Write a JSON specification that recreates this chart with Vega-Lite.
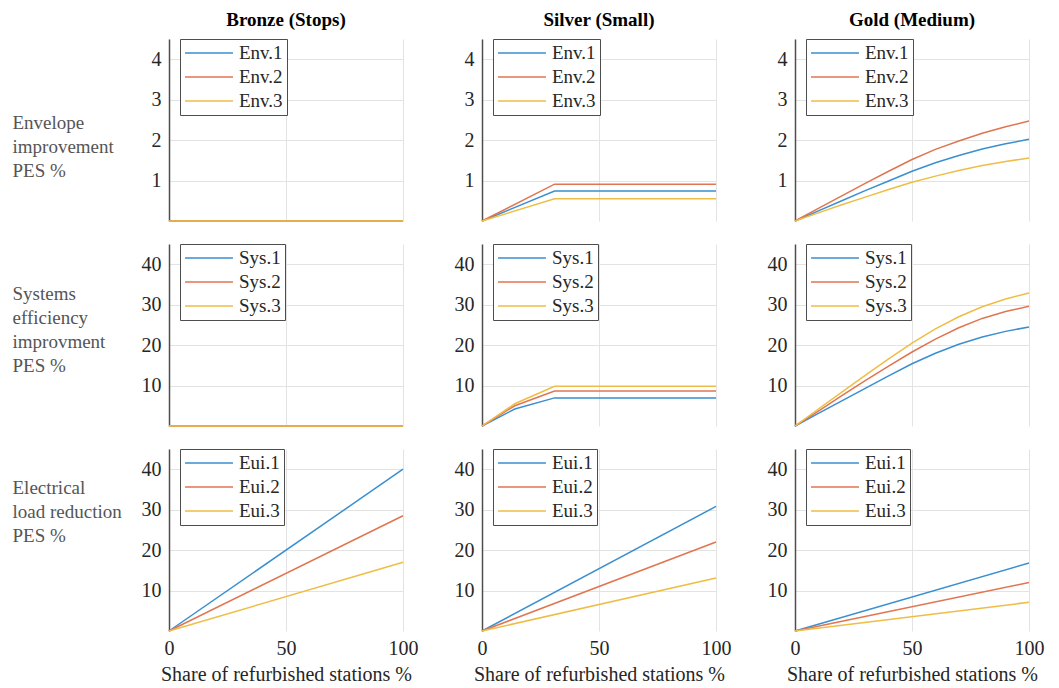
{
  "$schema": "https://vega.github.io/schema/vega-lite/v6.json",
  "padding": {"left": 12, "top": 10, "right": 5, "bottom": 2},
  "background": "white",
  "data": {"values": [
    {"tier": "Bronze", "metric": "Env", "s": "Env.1", "x": 0, "y": 0},
    {"tier": "Bronze", "metric": "Env", "s": "Env.1", "x": 100, "y": 0},
    {"tier": "Bronze", "metric": "Env", "s": "Env.2", "x": 0, "y": 0},
    {"tier": "Bronze", "metric": "Env", "s": "Env.2", "x": 100, "y": 0},
    {"tier": "Bronze", "metric": "Env", "s": "Env.3", "x": 0, "y": 0},
    {"tier": "Bronze", "metric": "Env", "s": "Env.3", "x": 100, "y": 0},
    {"tier": "Bronze", "metric": "Sys", "s": "Sys.1", "x": 0, "y": 0},
    {"tier": "Bronze", "metric": "Sys", "s": "Sys.1", "x": 100, "y": 0},
    {"tier": "Bronze", "metric": "Sys", "s": "Sys.2", "x": 0, "y": 0},
    {"tier": "Bronze", "metric": "Sys", "s": "Sys.2", "x": 100, "y": 0},
    {"tier": "Bronze", "metric": "Sys", "s": "Sys.3", "x": 0, "y": 0},
    {"tier": "Bronze", "metric": "Sys", "s": "Sys.3", "x": 100, "y": 0},
    {"tier": "Bronze", "metric": "Eui", "s": "Eui.1", "x": 0, "y": 0},
    {"tier": "Bronze", "metric": "Eui", "s": "Eui.1", "x": 100, "y": 40},
    {"tier": "Bronze", "metric": "Eui", "s": "Eui.2", "x": 0, "y": 0},
    {"tier": "Bronze", "metric": "Eui", "s": "Eui.2", "x": 100, "y": 28.5},
    {"tier": "Bronze", "metric": "Eui", "s": "Eui.3", "x": 0, "y": 0},
    {"tier": "Bronze", "metric": "Eui", "s": "Eui.3", "x": 100, "y": 17},

    {"tier": "Silver", "metric": "Env", "s": "Env.1", "x": 0, "y": 0},
    {"tier": "Silver", "metric": "Env", "s": "Env.1", "x": 31, "y": 0.74},
    {"tier": "Silver", "metric": "Env", "s": "Env.1", "x": 100, "y": 0.74},
    {"tier": "Silver", "metric": "Env", "s": "Env.2", "x": 0, "y": 0},
    {"tier": "Silver", "metric": "Env", "s": "Env.2", "x": 31, "y": 0.91},
    {"tier": "Silver", "metric": "Env", "s": "Env.2", "x": 100, "y": 0.91},
    {"tier": "Silver", "metric": "Env", "s": "Env.3", "x": 0, "y": 0},
    {"tier": "Silver", "metric": "Env", "s": "Env.3", "x": 31, "y": 0.55},
    {"tier": "Silver", "metric": "Env", "s": "Env.3", "x": 100, "y": 0.55},
    {"tier": "Silver", "metric": "Sys", "s": "Sys.1", "x": 0, "y": 0},
    {"tier": "Silver", "metric": "Sys", "s": "Sys.1", "x": 14, "y": 4.2},
    {"tier": "Silver", "metric": "Sys", "s": "Sys.1", "x": 31, "y": 6.95},
    {"tier": "Silver", "metric": "Sys", "s": "Sys.1", "x": 100, "y": 6.95},
    {"tier": "Silver", "metric": "Sys", "s": "Sys.2", "x": 0, "y": 0},
    {"tier": "Silver", "metric": "Sys", "s": "Sys.2", "x": 14, "y": 5.0},
    {"tier": "Silver", "metric": "Sys", "s": "Sys.2", "x": 31, "y": 8.65},
    {"tier": "Silver", "metric": "Sys", "s": "Sys.2", "x": 100, "y": 8.65},
    {"tier": "Silver", "metric": "Sys", "s": "Sys.3", "x": 0, "y": 0},
    {"tier": "Silver", "metric": "Sys", "s": "Sys.3", "x": 14, "y": 5.5},
    {"tier": "Silver", "metric": "Sys", "s": "Sys.3", "x": 31, "y": 9.8},
    {"tier": "Silver", "metric": "Sys", "s": "Sys.3", "x": 100, "y": 9.8},
    {"tier": "Silver", "metric": "Eui", "s": "Eui.1", "x": 0, "y": 0},
    {"tier": "Silver", "metric": "Eui", "s": "Eui.1", "x": 100, "y": 30.8},
    {"tier": "Silver", "metric": "Eui", "s": "Eui.2", "x": 0, "y": 0},
    {"tier": "Silver", "metric": "Eui", "s": "Eui.2", "x": 100, "y": 22.0},
    {"tier": "Silver", "metric": "Eui", "s": "Eui.3", "x": 0, "y": 0},
    {"tier": "Silver", "metric": "Eui", "s": "Eui.3", "x": 100, "y": 13.1},

    {"tier": "Gold", "metric": "Env", "s": "Env.1", "x": 0, "y": 0},
    {"tier": "Gold", "metric": "Env", "s": "Env.1", "x": 10, "y": 0.25},
    {"tier": "Gold", "metric": "Env", "s": "Env.1", "x": 20, "y": 0.50},
    {"tier": "Gold", "metric": "Env", "s": "Env.1", "x": 30, "y": 0.75},
    {"tier": "Gold", "metric": "Env", "s": "Env.1", "x": 40, "y": 0.99},
    {"tier": "Gold", "metric": "Env", "s": "Env.1", "x": 50, "y": 1.23},
    {"tier": "Gold", "metric": "Env", "s": "Env.1", "x": 60, "y": 1.44},
    {"tier": "Gold", "metric": "Env", "s": "Env.1", "x": 70, "y": 1.62},
    {"tier": "Gold", "metric": "Env", "s": "Env.1", "x": 80, "y": 1.78},
    {"tier": "Gold", "metric": "Env", "s": "Env.1", "x": 90, "y": 1.91},
    {"tier": "Gold", "metric": "Env", "s": "Env.1", "x": 100, "y": 2.02},
    {"tier": "Gold", "metric": "Env", "s": "Env.2", "x": 0, "y": 0},
    {"tier": "Gold", "metric": "Env", "s": "Env.2", "x": 10, "y": 0.31},
    {"tier": "Gold", "metric": "Env", "s": "Env.2", "x": 20, "y": 0.62},
    {"tier": "Gold", "metric": "Env", "s": "Env.2", "x": 30, "y": 0.93},
    {"tier": "Gold", "metric": "Env", "s": "Env.2", "x": 40, "y": 1.23},
    {"tier": "Gold", "metric": "Env", "s": "Env.2", "x": 50, "y": 1.52},
    {"tier": "Gold", "metric": "Env", "s": "Env.2", "x": 60, "y": 1.77},
    {"tier": "Gold", "metric": "Env", "s": "Env.2", "x": 70, "y": 1.98},
    {"tier": "Gold", "metric": "Env", "s": "Env.2", "x": 80, "y": 2.17},
    {"tier": "Gold", "metric": "Env", "s": "Env.2", "x": 90, "y": 2.33},
    {"tier": "Gold", "metric": "Env", "s": "Env.2", "x": 100, "y": 2.47},
    {"tier": "Gold", "metric": "Env", "s": "Env.3", "x": 0, "y": 0},
    {"tier": "Gold", "metric": "Env", "s": "Env.3", "x": 10, "y": 0.20},
    {"tier": "Gold", "metric": "Env", "s": "Env.3", "x": 20, "y": 0.40},
    {"tier": "Gold", "metric": "Env", "s": "Env.3", "x": 30, "y": 0.59},
    {"tier": "Gold", "metric": "Env", "s": "Env.3", "x": 40, "y": 0.78},
    {"tier": "Gold", "metric": "Env", "s": "Env.3", "x": 50, "y": 0.96},
    {"tier": "Gold", "metric": "Env", "s": "Env.3", "x": 60, "y": 1.11},
    {"tier": "Gold", "metric": "Env", "s": "Env.3", "x": 70, "y": 1.25},
    {"tier": "Gold", "metric": "Env", "s": "Env.3", "x": 80, "y": 1.37},
    {"tier": "Gold", "metric": "Env", "s": "Env.3", "x": 90, "y": 1.47},
    {"tier": "Gold", "metric": "Env", "s": "Env.3", "x": 100, "y": 1.56},
    {"tier": "Gold", "metric": "Sys", "s": "Sys.1", "x": 0, "y": 0},
    {"tier": "Gold", "metric": "Sys", "s": "Sys.1", "x": 10, "y": 3.1},
    {"tier": "Gold", "metric": "Sys", "s": "Sys.1", "x": 20, "y": 6.2},
    {"tier": "Gold", "metric": "Sys", "s": "Sys.1", "x": 30, "y": 9.3},
    {"tier": "Gold", "metric": "Sys", "s": "Sys.1", "x": 40, "y": 12.4},
    {"tier": "Gold", "metric": "Sys", "s": "Sys.1", "x": 50, "y": 15.4},
    {"tier": "Gold", "metric": "Sys", "s": "Sys.1", "x": 60, "y": 18.0},
    {"tier": "Gold", "metric": "Sys", "s": "Sys.1", "x": 70, "y": 20.2},
    {"tier": "Gold", "metric": "Sys", "s": "Sys.1", "x": 80, "y": 22.0},
    {"tier": "Gold", "metric": "Sys", "s": "Sys.1", "x": 90, "y": 23.4},
    {"tier": "Gold", "metric": "Sys", "s": "Sys.1", "x": 100, "y": 24.5},
    {"tier": "Gold", "metric": "Sys", "s": "Sys.2", "x": 0, "y": 0},
    {"tier": "Gold", "metric": "Sys", "s": "Sys.2", "x": 10, "y": 3.7},
    {"tier": "Gold", "metric": "Sys", "s": "Sys.2", "x": 20, "y": 7.5},
    {"tier": "Gold", "metric": "Sys", "s": "Sys.2", "x": 30, "y": 11.2},
    {"tier": "Gold", "metric": "Sys", "s": "Sys.2", "x": 40, "y": 14.8},
    {"tier": "Gold", "metric": "Sys", "s": "Sys.2", "x": 50, "y": 18.3},
    {"tier": "Gold", "metric": "Sys", "s": "Sys.2", "x": 60, "y": 21.5},
    {"tier": "Gold", "metric": "Sys", "s": "Sys.2", "x": 70, "y": 24.3},
    {"tier": "Gold", "metric": "Sys", "s": "Sys.2", "x": 80, "y": 26.6},
    {"tier": "Gold", "metric": "Sys", "s": "Sys.2", "x": 90, "y": 28.3},
    {"tier": "Gold", "metric": "Sys", "s": "Sys.2", "x": 100, "y": 29.6},
    {"tier": "Gold", "metric": "Sys", "s": "Sys.3", "x": 0, "y": 0},
    {"tier": "Gold", "metric": "Sys", "s": "Sys.3", "x": 10, "y": 4.2},
    {"tier": "Gold", "metric": "Sys", "s": "Sys.3", "x": 20, "y": 8.4},
    {"tier": "Gold", "metric": "Sys", "s": "Sys.3", "x": 30, "y": 12.5},
    {"tier": "Gold", "metric": "Sys", "s": "Sys.3", "x": 40, "y": 16.6},
    {"tier": "Gold", "metric": "Sys", "s": "Sys.3", "x": 50, "y": 20.5},
    {"tier": "Gold", "metric": "Sys", "s": "Sys.3", "x": 60, "y": 24.0},
    {"tier": "Gold", "metric": "Sys", "s": "Sys.3", "x": 70, "y": 27.0},
    {"tier": "Gold", "metric": "Sys", "s": "Sys.3", "x": 80, "y": 29.5},
    {"tier": "Gold", "metric": "Sys", "s": "Sys.3", "x": 90, "y": 31.4},
    {"tier": "Gold", "metric": "Sys", "s": "Sys.3", "x": 100, "y": 32.9},
    {"tier": "Gold", "metric": "Eui", "s": "Eui.1", "x": 0, "y": 0},
    {"tier": "Gold", "metric": "Eui", "s": "Eui.1", "x": 100, "y": 16.8},
    {"tier": "Gold", "metric": "Eui", "s": "Eui.2", "x": 0, "y": 0},
    {"tier": "Gold", "metric": "Eui", "s": "Eui.2", "x": 100, "y": 12.0},
    {"tier": "Gold", "metric": "Eui", "s": "Eui.3", "x": 0, "y": 0},
    {"tier": "Gold", "metric": "Eui", "s": "Eui.3", "x": 100, "y": 7.1}
  ]},
  "config": {
    "font": "'Liberation Serif', 'Times New Roman', serif",
    "view": {"stroke": null},
    "style": {"guide-title": {"font": "'Liberation Serif', 'Times New Roman', serif"}, "guide-label": {"font": "'Liberation Serif', 'Times New Roman', serif"}},
    "axis": {
      "grid": true, "gridColor": "#e3e3e3", "gridWidth": 1,
      "ticks": false,
      "labelFont": "'Liberation Serif', 'Times New Roman', serif", "labelFontSize": 20, "labelColor": "#262626",
      "titleFont": "'Liberation Serif', 'Times New Roman', serif", "titleFontWeight": "normal", "titleColor": "#262626"
    },
    "axisX": {"domain": false, "labelFlush": false, "labelPadding": 7, "titleFontSize": 20, "titlePadding": 6, "titleFont": "'Liberation Serif', 'Times New Roman', serif"},
    "axisY": {"domain": true, "domainColor": "#4d4d4d", "domainWidth": 1.5, "labelPadding": 8, "titleFont": "'Liberation Serif', 'Times New Roman', serif"},
    "legend": {
      "orient": "none", "legendX": 11, "legendY": 0,
      "title": null,
      "symbolType": "stroke", "symbolSize": 2300, "symbolStrokeWidth": 1.5,
      "clipHeight": 20,
      "labelFont": "'Liberation Serif', 'Times New Roman', serif", "labelFontSize": 19, "labelColor": "#262626",
      "labelOffset": 5, "padding": 4, "rowPadding": 4,
      "strokeColor": "#4d4d4d", "fillColor": "white"
    },
    "title": {"font": "'Liberation Serif', 'Times New Roman', serif", "fontSize": 19, "fontWeight": "bold", "color": "#000000", "offset": 9},
    "line": {"strokeWidth": 1.5}
  },
  "resolve": {"scale": {"color": "independent"}, "legend": {"color": "independent"}},
  "spacing": {"row": 23, "column": 79},
  "bounds": "flush",
  "columns": 3,
  "concat": [
    {
      "title": "Bronze (Stops)", "width": 234, "height": 182,
      "transform": [{"filter": "datum.tier == 'Bronze' && datum.metric == 'Env'"}],
      "mark": "line",
      "encoding": {
        "x": {"field": "x", "type": "quantitative", "scale": {"domain": [0, 100], "nice": false}, "axis": {"values": [0, 50, 100], "labels": false, "title": null}},
        "y": {"field": "y", "type": "quantitative", "scale": {"domain": [0, 4.5], "nice": false}, "axis": {"values": [1, 2, 3, 4], "title": ["Envelope", "improvement", "PES %"], "titleFont": "'Liberation Serif', 'Times New Roman', serif", "titleAngle": 0, "titleAlign": "left", "titleBaseline": "top", "titleX": -157, "titleY": 74, "titleFontSize": 19, "titleColor": "#555555", "titleLineHeight": 24}},
        "color": {"field": "s", "type": "nominal", "scale": {"domain": ["Env.1", "Env.2", "Env.3"], "range": ["#3a8fd0", "#e07550", "#efbd45"]}}
      }
    },
    {
      "title": "Silver (Small)", "width": 234, "height": 182,
      "transform": [{"filter": "datum.tier == 'Silver' && datum.metric == 'Env'"}],
      "mark": "line",
      "encoding": {
        "x": {"field": "x", "type": "quantitative", "scale": {"domain": [0, 100], "nice": false}, "axis": {"values": [0, 50, 100], "labels": false, "title": null}},
        "y": {"field": "y", "type": "quantitative", "scale": {"domain": [0, 4.5], "nice": false}, "axis": {"values": [1, 2, 3, 4], "title": null}},
        "color": {"field": "s", "type": "nominal", "scale": {"domain": ["Env.1", "Env.2", "Env.3"], "range": ["#3a8fd0", "#e07550", "#efbd45"]}}
      }
    },
    {
      "title": "Gold (Medium)", "width": 234, "height": 182,
      "transform": [{"filter": "datum.tier == 'Gold' && datum.metric == 'Env'"}],
      "mark": "line",
      "encoding": {
        "x": {"field": "x", "type": "quantitative", "scale": {"domain": [0, 100], "nice": false}, "axis": {"values": [0, 50, 100], "labels": false, "title": null}},
        "y": {"field": "y", "type": "quantitative", "scale": {"domain": [0, 4.5], "nice": false}, "axis": {"values": [1, 2, 3, 4], "title": null}},
        "color": {"field": "s", "type": "nominal", "scale": {"domain": ["Env.1", "Env.2", "Env.3"], "range": ["#3a8fd0", "#e07550", "#efbd45"]}}
      }
    },
    {
      "width": 234, "height": 182,
      "transform": [{"filter": "datum.tier == 'Bronze' && datum.metric == 'Sys'"}],
      "mark": "line",
      "encoding": {
        "x": {"field": "x", "type": "quantitative", "scale": {"domain": [0, 100], "nice": false}, "axis": {"values": [0, 50, 100], "labels": false, "title": null}},
        "y": {"field": "y", "type": "quantitative", "scale": {"domain": [0, 45], "nice": false}, "axis": {"values": [10, 20, 30, 40], "title": ["Systems", "efficiency", "improvment", "PES %"], "titleFont": "'Liberation Serif', 'Times New Roman', serif", "titleAngle": 0, "titleAlign": "left", "titleBaseline": "top", "titleX": -157, "titleY": 40, "titleFontSize": 19, "titleColor": "#555555", "titleLineHeight": 24}},
        "color": {"field": "s", "type": "nominal", "scale": {"domain": ["Sys.1", "Sys.2", "Sys.3"], "range": ["#3a8fd0", "#e07550", "#efbd45"]}}
      }
    },
    {
      "width": 234, "height": 182,
      "transform": [{"filter": "datum.tier == 'Silver' && datum.metric == 'Sys'"}],
      "mark": "line",
      "encoding": {
        "x": {"field": "x", "type": "quantitative", "scale": {"domain": [0, 100], "nice": false}, "axis": {"values": [0, 50, 100], "labels": false, "title": null}},
        "y": {"field": "y", "type": "quantitative", "scale": {"domain": [0, 45], "nice": false}, "axis": {"values": [10, 20, 30, 40], "title": null}},
        "color": {"field": "s", "type": "nominal", "scale": {"domain": ["Sys.1", "Sys.2", "Sys.3"], "range": ["#3a8fd0", "#e07550", "#efbd45"]}}
      }
    },
    {
      "width": 234, "height": 182,
      "transform": [{"filter": "datum.tier == 'Gold' && datum.metric == 'Sys'"}],
      "mark": "line",
      "encoding": {
        "x": {"field": "x", "type": "quantitative", "scale": {"domain": [0, 100], "nice": false}, "axis": {"values": [0, 50, 100], "labels": false, "title": null}},
        "y": {"field": "y", "type": "quantitative", "scale": {"domain": [0, 45], "nice": false}, "axis": {"values": [10, 20, 30, 40], "title": null}},
        "color": {"field": "s", "type": "nominal", "scale": {"domain": ["Sys.1", "Sys.2", "Sys.3"], "range": ["#3a8fd0", "#e07550", "#efbd45"]}}
      }
    },
    {
      "width": 234, "height": 182,
      "transform": [{"filter": "datum.tier == 'Bronze' && datum.metric == 'Eui'"}],
      "mark": "line",
      "encoding": {
        "x": {"field": "x", "type": "quantitative", "scale": {"domain": [0, 100], "nice": false}, "axis": {"values": [0, 50, 100], "title": "Share of refurbished stations %", "titleFont": "'Liberation Serif', 'Times New Roman', serif"}},
        "y": {"field": "y", "type": "quantitative", "scale": {"domain": [0, 45], "nice": false}, "axis": {"values": [10, 20, 30, 40], "title": ["Electrical", "load reduction", "PES %"], "titleFont": "'Liberation Serif', 'Times New Roman', serif", "titleAngle": 0, "titleAlign": "left", "titleBaseline": "top", "titleX": -157, "titleY": 29, "titleFontSize": 19, "titleColor": "#555555", "titleLineHeight": 24}},
        "color": {"field": "s", "type": "nominal", "scale": {"domain": ["Eui.1", "Eui.2", "Eui.3"], "range": ["#3a8fd0", "#e07550", "#efbd45"]}}
      }
    },
    {
      "width": 234, "height": 182,
      "transform": [{"filter": "datum.tier == 'Silver' && datum.metric == 'Eui'"}],
      "mark": "line",
      "encoding": {
        "x": {"field": "x", "type": "quantitative", "scale": {"domain": [0, 100], "nice": false}, "axis": {"values": [0, 50, 100], "title": "Share of refurbished stations %", "titleFont": "'Liberation Serif', 'Times New Roman', serif"}},
        "y": {"field": "y", "type": "quantitative", "scale": {"domain": [0, 45], "nice": false}, "axis": {"values": [10, 20, 30, 40], "title": null}},
        "color": {"field": "s", "type": "nominal", "scale": {"domain": ["Eui.1", "Eui.2", "Eui.3"], "range": ["#3a8fd0", "#e07550", "#efbd45"]}}
      }
    },
    {
      "width": 234, "height": 182,
      "transform": [{"filter": "datum.tier == 'Gold' && datum.metric == 'Eui'"}],
      "mark": "line",
      "encoding": {
        "x": {"field": "x", "type": "quantitative", "scale": {"domain": [0, 100], "nice": false}, "axis": {"values": [0, 50, 100], "title": "Share of refurbished stations %", "titleFont": "'Liberation Serif', 'Times New Roman', serif"}},
        "y": {"field": "y", "type": "quantitative", "scale": {"domain": [0, 45], "nice": false}, "axis": {"values": [10, 20, 30, 40], "title": null}},
        "color": {"field": "s", "type": "nominal", "scale": {"domain": ["Eui.1", "Eui.2", "Eui.3"], "range": ["#3a8fd0", "#e07550", "#efbd45"]}}
      }
    }
  ]
}
